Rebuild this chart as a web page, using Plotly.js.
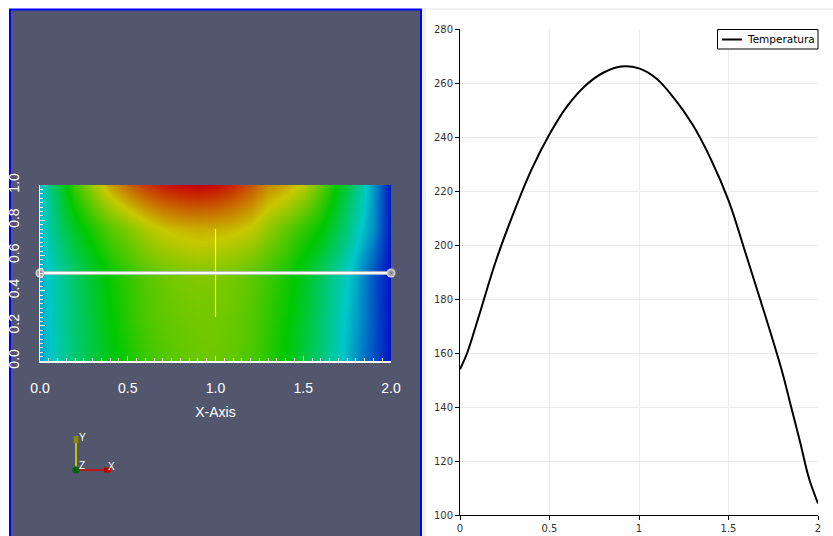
<!DOCTYPE html>
<html>
<head>
<meta charset="utf-8">
<script src="https://cdn.plot.ly/plotly-3.0.1.min.js"></script>
<style>
html,body{margin:0;padding:0;background:#fff;}
#chart{width:833px;height:536px;}
</style>
</head>
<body>
<div id="chart"></div>
<script>
// ---- Line plot (Temperatura along y = 0.5) ----
var lineX = [0, 0.04, 0.1, 0.2, 0.3, 0.4, 0.5, 0.6, 0.7, 0.8, 0.9, 1.0, 1.1, 1.2, 1.3, 1.4, 1.5, 1.6, 1.7, 1.8, 1.85, 1.9, 1.95, 2.0];
var temperatura = [154, 160, 172.5, 194, 212, 228, 241, 251.5, 259, 263.8, 266.1, 265.4, 261.5, 254, 244.5, 232, 216.5, 196, 175, 153, 140, 127, 113.5, 104.3];

// ---- Field (heatmap) ----
var fieldX = [0, 0.1, 0.2, 0.3, 0.4, 0.5, 0.6, 0.7, 0.8, 0.9, 1.0, 1.1, 1.2, 1.3, 1.4, 1.5, 1.6, 1.7, 1.8, 1.9, 2.0];
var fieldY = [0, 0.25, 0.5, 0.75, 1.0];
var rowY000 = [150, 172, 190, 205, 219, 232, 243, 250, 255, 258, 259, 255, 248, 237, 223, 206, 188, 167, 145, 125, 105];
var rowY025 = [152, 173, 191, 208, 224, 238, 248, 255, 259, 261, 261, 258, 251, 240, 227, 211, 191, 170, 150, 127, 105];
var rowY050 = [154, 174, 194, 212, 228, 241, 251.5, 259, 263.8, 266.1, 265.4, 261.5, 254, 244.5, 232, 216.5, 196, 175, 153, 127, 104];
var rowY075 = [158, 190, 215, 235, 252, 265, 278, 288, 293, 296, 295, 292, 285, 270, 255, 240, 225, 200, 170, 145, 105];
var rowY100 = [160, 205, 245, 275, 300, 318, 332, 342, 348, 350, 347, 338, 324, 307, 298, 284, 255, 222, 185, 148, 105];

// probe line widget and centre cross
var probeX = [0, 2];
var probeY = [0.5, 0.5];
var crossX = [1.0, 1.0];
var crossY = [0.25, 0.75];

// tick labels
var leftXTicks = [0, 0.5, 1, 1.5, 2];
var leftXText = ['0.0', '0.5', '1.0', '1.5', '2.0'];
var leftYTicks = [0, 0.2, 0.4, 0.6, 0.8, 1.0];
var leftYText = ['0.0', '0.2', '0.4', '0.6', '0.8', '1.0'];
var rightXTicks = [0, 0.5, 1, 1.5, 2];
var rightXText = ['0', '0.5', '1', '1.5', '2'];
var rightYTicks = [100, 120, 140, 160, 180, 200, 220, 240, 260, 280];
var seriesName = 'Temperatura';

var W = 833, H = 536;
function px(x){ return x / W; }
function py(y){ return 1 - y / H; }

var rainbow = [
  [0.0, 'rgb(0,0,195)'],
  [0.25, 'rgb(0,200,200)'],
  [0.5, 'rgb(0,200,0)'],
  [0.75, 'rgb(200,200,0)'],
  [1.0, 'rgb(200,0,0)']
];

var traces = [
  {
    type: 'heatmap',
    x: fieldX, y: fieldY,
    z: [rowY000, rowY025, rowY050, rowY075, rowY100],
    zsmooth: 'best',
    colorscale: rainbow,
    zmin: 100, zmax: 350,
    showscale: false,
    hoverinfo: 'skip',
    xaxis: 'x', yaxis: 'y'
  },
  {
    type: 'scatter', mode: 'lines',
    x: crossX, y: crossY,
    line: {color: '#ffff00', width: 1.2},
    showlegend: false, hoverinfo: 'skip',
    xaxis: 'x', yaxis: 'y', cliponaxis: false
  },
  {
    type: 'scatter', mode: 'lines',
    x: probeX, y: probeY,
    line: {color: '#c8c8c8', width: 3.5},
    showlegend: false, hoverinfo: 'skip',
    xaxis: 'x', yaxis: 'y', cliponaxis: false
  },
  {
    type: 'scatter', mode: 'lines+markers',
    x: probeX, y: probeY,
    line: {color: '#ffffff', width: 2},
    marker: {size: 9, color: '#e0e0e0', gradient: {type: 'radial', color: '#707070'}, line: {width: 0}},
    showlegend: false, hoverinfo: 'skip',
    xaxis: 'x', yaxis: 'y', cliponaxis: false
  },
  {
    type: 'scatter', mode: 'lines',
    name: seriesName,
    x: lineX, y: temperatura,
    line: {color: '#000000', width: 2, shape: 'spline', smoothing: 1},
    xaxis: 'x2', yaxis: 'y2',
    showlegend: false
  }
];

var shapes = [
  // left render view panel
  {type: 'rect', xref: 'paper', yref: 'paper', layer: 'below',
   x0: px(10), x1: px(421), y0: py(545), y1: py(9.5),
   fillcolor: '#52576e', line: {color: '#0000ff', width: 2}},
  // separator between views
  {type: 'rect', xref: 'paper', yref: 'paper', layer: 'below',
   x0: px(422), x1: px(426), y0: py(545), y1: py(8),
   fillcolor: '#efefef', line: {width: 0}},
  {type: 'line', xref: 'paper', yref: 'paper', layer: 'below',
   x0: px(422), x1: px(833), y0: py(9), y1: py(9),
   line: {color: '#ececec', width: 1.5}},
  // orientation axes
  {type: 'line', xref: 'paper', yref: 'paper', x0: px(76), x1: px(76), y0: py(470), y1: py(440), line: {color: '#e6e600', width: 1.5}},
  {type: 'line', xref: 'paper', yref: 'paper', x0: px(76), x1: px(104), y0: py(470), y1: py(470), line: {color: '#e00000', width: 1.5}},
  {type: 'rect', xref: 'paper', yref: 'paper', x0: px(73.5), x1: px(78.5), y0: py(443), y1: py(436), fillcolor: '#8a8a00', line: {width: 0}},
  {type: 'rect', xref: 'paper', yref: 'paper', x0: px(104), x1: px(111), y0: py(472.5), y1: py(467.5), fillcolor: '#b00000', line: {width: 0}},
  {type: 'circle', xref: 'paper', yref: 'paper', x0: px(72.5), x1: px(79.5), y0: py(473.5), y1: py(466.5), fillcolor: '#006400', line: {width: 0}},
  // legend box of the line chart
  {type: 'rect', xref: 'paper', yref: 'paper', layer: 'above',
   x0: px(717.5), x1: px(818), y0: py(49), y1: py(29.5),
   fillcolor: '#ffffff', line: {color: '#000000', width: 1}},
  {type: 'line', xref: 'paper', yref: 'paper', layer: 'above',
   x0: px(722), x1: px(742), y0: py(39.5), y1: py(39.5),
   line: {color: '#000000', width: 2}}
];

var annotations = [
  {xref: 'paper', yref: 'paper', x: px(82), y: py(437), text: 'Y', showarrow: false, xanchor: 'center', yanchor: 'middle', font: {color: '#ffffff', size: 10, family: 'Liberation Sans, Arial, sans-serif'}},
  {xref: 'paper', yref: 'paper', x: px(82), y: py(465), text: 'Z', showarrow: false, xanchor: 'center', yanchor: 'middle', font: {color: '#ffffff', size: 10, family: 'Liberation Sans, Arial, sans-serif'}},
  {xref: 'paper', yref: 'paper', x: px(111), y: py(466), text: 'X', showarrow: false, xanchor: 'center', yanchor: 'middle', font: {color: '#ffffff', size: 10, family: 'Liberation Sans, Arial, sans-serif'}},
  {xref: 'paper', yref: 'paper', x: px(745), y: py(39.5), text: seriesName, showarrow: false, xanchor: 'left', yanchor: 'middle', font: {color: '#000000', size: 10.5, family: 'DejaVu Sans, sans-serif'}}
];

var whiteFont = {color: '#ffffff', size: 14, family: 'Liberation Sans, Arial, sans-serif'};
var chartFont = {color: '#333333', size: 10, family: 'DejaVu Sans, sans-serif'};

var layout = {
  width: W, height: H,
  margin: {l: 0, r: 0, t: 0, b: 0},
  paper_bgcolor: '#ffffff',
  plot_bgcolor: 'rgba(0,0,0,0)',
  showlegend: false,
  shapes: shapes,
  annotations: annotations,
  xaxis: {
    domain: [px(40), px(391)], anchor: 'y',
    range: [0, 2], showgrid: false, zeroline: false,
    showline: true, linecolor: '#ffffff', linewidth: 1.5,
    ticks: 'inside', ticklen: 5, tickcolor: '#ffffff', tickwidth: 1,
    minor: {dtick: 0.05, ticks: 'inside', ticklen: 3, tickcolor: '#ffffff', tickwidth: 1},
    tickvals: leftXTicks, ticktext: leftXText,
    tickfont: whiteFont, ticklabelstandoff: 14,
    title: {text: 'X-Axis', font: whiteFont, standoff: 12},
    fixedrange: true
  },
  yaxis: {
    domain: [py(361), py(185)], anchor: 'x',
    range: [0, 1], showgrid: false, zeroline: false,
    showline: true, linecolor: '#ffffff', linewidth: 1.5,
    ticks: 'inside', ticklen: 5, tickcolor: '#ffffff', tickwidth: 1,
    minor: {dtick: 0.025, ticks: 'inside', ticklen: 3, tickcolor: '#ffffff', tickwidth: 1},
    tickvals: leftYTicks, ticktext: leftYText,
    tickangle: -90,
    tickfont: whiteFont, ticklabelstandoff: 14,
    fixedrange: true
  },
  xaxis2: {
    domain: [px(460), px(818)], anchor: 'y2',
    range: [0, 2], zeroline: false,
    showgrid: true, gridcolor: '#ececec', gridwidth: 1,
    showline: true, linecolor: '#000000', linewidth: 1,
    ticks: 'outside', ticklen: 4, tickcolor: '#000000',
    tickvals: rightXTicks, ticktext: rightXText,
    tickfont: chartFont, fixedrange: true
  },
  yaxis2: {
    domain: [py(515), py(29)], anchor: 'x2',
    range: [100, 280], zeroline: false,
    showgrid: true, gridcolor: '#ececec', gridwidth: 1,
    showline: true, linecolor: '#000000', linewidth: 1,
    ticks: 'outside', ticklen: 4, tickcolor: '#000000',
    tickvals: rightYTicks,
    tickfont: chartFont, fixedrange: true
  }
};

Plotly.newPlot('chart', traces, layout, {displayModeBar: false, staticPlot: true});
</script>
</body>
</html>
